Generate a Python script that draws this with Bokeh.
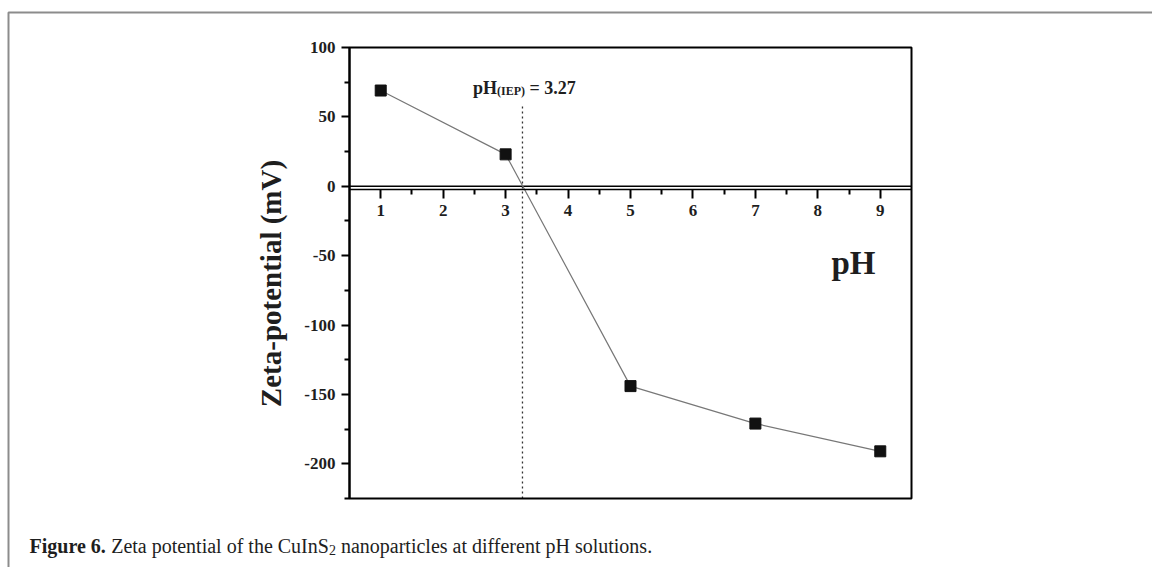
import math
from bokeh.plotting import figure
from bokeh.models import Range1d, Label, BoxAnnotation, FixedTicker, PrintfTickFormatter
from bokeh.embed import file_html
from bokeh.resources import INLINE

# ---------------- data ----------------
ph = [1, 3, 5, 7, 9]
zeta = [69, 23, -144, -171, -191]
iep = 3.27
x_ticks = [1, 2, 3, 4, 5, 6, 7, 8, 9]
x_minor = [1.5, 2.5, 3.5, 4.5, 5.5, 6.5, 7.5, 8.5]
y_ticks = [-200, -150, -100, -50, 0, 50, 100]
y_minor = [-225, -175, -125, -75, -25, 25, 75]
x_lo, x_hi = 0.5, 9.5
y_lo, y_hi = -225, 100

# Times metrics (Liberation Serif is metric compatible)
ROMAN = {' ': 250, '.': 250, '2': 500, '6': 500, 'C': 667, 'F': 556, 'H': 722, 'I': 333,
         'S': 556, 'Z': 611, 'a': 444, 'c': 444, 'd': 500, 'e': 444, 'f': 333, 'g': 500,
         'h': 500, 'i': 278, 'l': 278, 'n': 500, 'o': 500, 'p': 500, 'r': 333, 's': 389,
         't': 278, 'u': 500}
BOLD = {' ': 250, '.': 250, '2': 500, '3': 500, '6': 500, '7': 500, '=': 570, '(': 333,
        ')': 333, 'E': 667, 'F': 611, 'H': 778, 'I': 389, 'P': 611, 'e': 444, 'g': 500,
        'i': 278, 'p': 556, 'r': 444, 'u': 556}


def tw(s, size, bold=False):
    tab = BOLD if bold else ROMAN
    return sum(tab.get(c, 500) for c in s) * size / 1000.0


SERIF = "Liberation Serif"
INK = "#1e1e1e"
W, H = 1152, 567
FL, FR, FT, FB = 349, 911, 47, 498  # inner plot box edges in canvas pixels
SX = (FR - FL) / (x_hi - x_lo)
SY = (FB - FT) / (y_hi - y_lo)


def dx(px):  # canvas pixel -> data x
    return x_lo + (px - FL) / SX


def dy(py):  # canvas pixel -> data y
    return y_hi - (py - FT) / SY


# the Bokeh frame spans the whole canvas; the chart box sits inside it
p = figure(width=W, height=H, output_backend="svg", toolbar_location=None, title=None,
           x_range=Range1d(dx(0), dx(W)), y_range=Range1d(dy(H), dy(0)),
           min_border=0, min_border_left=0, min_border_right=0,
           min_border_top=0, min_border_bottom=0)
p.xgrid.visible = False
p.ygrid.visible = False
p.outline_line_color = None
p.background_fill_color = "white"
p.border_fill_color = "white"

# page frame (grey rule at top and left)
p.add_layout(BoxAnnotation(left=dx(8), right=dx(W + 20), top=dy(12), bottom=dy(H + 30),
                           fill_alpha=0, line_color="#8c8c8c", line_alpha=1.0, line_width=2))

# chart box
p.add_layout(BoxAnnotation(left=x_lo, right=x_hi, top=y_hi, bottom=y_lo,
                           fill_alpha=0, line_color="black", line_alpha=1.0, line_width=2))

# y axis
ya = p.yaxis[0]
ya.fixed_location = x_lo
ya.bounds = (y_lo, y_hi)
ya.ticker = FixedTicker(ticks=y_ticks, minor_ticks=y_minor)
ya.formatter = PrintfTickFormatter(format="%d")
ya.axis_line_width = 2
ya.major_tick_line_width = 2
ya.minor_tick_line_width = 2
ya.major_tick_in = 0
ya.major_tick_out = 8
ya.minor_tick_in = 0
ya.minor_tick_out = 5
ya.major_label_text_font = SERIF
ya.major_label_text_font_style = "bold"
ya.major_label_text_font_size = "17px"
ya.major_label_text_color = INK
ya.major_label_standoff = 6

# x axis sitting just under the zero line
xa = p.xaxis[0]
xa.fixed_location = -2.4
xa.bounds = (x_lo, x_hi)
xa.ticker = FixedTicker(ticks=x_ticks, minor_ticks=x_minor)
xa.axis_line_width = 1.5
xa.major_tick_line_width = 2
xa.minor_tick_line_width = 2
xa.major_tick_in = 0
xa.major_tick_out = 9
xa.minor_tick_in = 0
xa.minor_tick_out = 5
xa.major_label_text_font = SERIF
xa.major_label_text_font_style = "bold"
xa.major_label_text_font_size = "17px"
xa.major_label_text_color = INK
xa.major_label_standoff = 6

# zero line
p.segment(x0=[x_lo], y0=[0], x1=[x_hi], y1=[0], line_color="black", line_width=1.5)

# dotted IEP line
p.segment(x0=[iep], y0=[y_lo], x1=[iep], y1=[57.7], line_color="#333",
          line_width=1.3, line_dash="2 3")

# data
p.line(ph, zeta, line_color="#777", line_width=1.2)
p.scatter(ph, zeta, marker="square", size=11, fill_color="#111", line_color="#111")

# y axis title (rotated)
p.add_layout(Label(x=dx(270), y=dy(283), text="Zeta-potential (mV)", angle=math.pi / 2,
                   text_font=SERIF, text_font_style="bold", text_font_size="29px",
                   text_color=INK, text_align="center", text_baseline="alphabetic"))

# x axis title "pH"
p.add_layout(Label(x=dx(831), y=dy(262), text="pH", text_font=SERIF, text_font_style="bold",
                   text_font_size="33px", text_color=INK, text_baseline="alphabetic"))

# IEP annotation: pH(IEP) = 3.27
big, small = 18, 12
s1, s2, s3 = "pH", "(IEP)", "= %.2f" % iep
w1, w2 = tw(s1, big, True), tw(s2, small, True)
x0 = -49.5
ann_y = 70.7
p.add_layout(Label(x=iep, y=ann_y, x_offset=x0, text=s1, text_font=SERIF,
                   text_font_style="bold", text_font_size="%dpx" % big,
                   text_color=INK, text_baseline="alphabetic"))
p.add_layout(Label(x=iep, y=ann_y, x_offset=x0 + w1, y_offset=-3, text=s2, text_font=SERIF,
                   text_font_style="bold", text_font_size="%dpx" % small,
                   text_color=INK, text_baseline="alphabetic"))
p.add_layout(Label(x=iep, y=ann_y, x_offset=x0 + w1 + w2 + tw(" ", big, True), text=s3,
                   text_font=SERIF, text_font_style="bold", text_font_size="%dpx" % big,
                   text_color=INK, text_baseline="alphabetic"))

# caption
cs = 20
cx = 0.0
parts = [("Figure 6.", True, cs, 0), (" Zeta potential of the CuInS", False, cs, 0),
         ("2", False, 14, -4), (" nanoparticles at different pH solutions.", False, cs, 0)]
for txt, b, sz, yo in parts:
    lead = tw(" ", sz, b) if txt.startswith(" ") else 0
    p.add_layout(Label(x=dx(29), y=dy(545), x_offset=cx + lead, y_offset=yo,
                       text=txt.strip(), text_font=SERIF,
                       text_font_style="bold" if b else "normal",
                       text_font_size="%dpx" % sz, text_color=INK,
                       text_baseline="alphabetic"))
    cx += tw(txt, sz, b)

open("out.html", "w").write(file_html(p, INLINE))
